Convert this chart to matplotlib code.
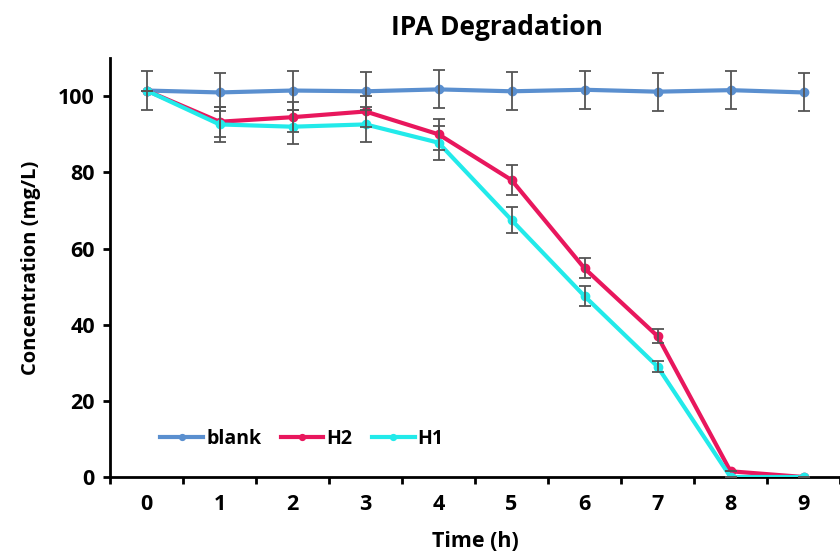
import matplotlib
matplotlib.use("Agg")
import matplotlib.pyplot as plt

time_h = [0, 1, 2, 3, 4, 5, 6, 7, 8, 9]
blank = [101.5, 101.0, 101.5, 101.3, 101.8, 101.3, 101.7, 101.2, 101.6, 101.0]
blank_err = [5.0, 5.0, 5.0, 5.0, 5.0, 5.0, 5.0, 5.0, 5.0, 5.0]
h2 = [101.5, 93.3, 94.5, 96.0, 90.0, 78.0, 54.8, 37.0, 1.5, 0.0]
h2_err = [0.0, 4.0, 4.0, 4.0, 4.0, 4.0, 2.6, 1.8, 0.0, 0.0]
h1 = [101.5, 92.6, 92.0, 92.6, 87.8, 67.5, 47.5, 29.0, 0.0, 0.0]
h1_err = [0.0, 4.5, 4.5, 4.5, 4.5, 3.4, 2.6, 1.5, 0.0, 0.0]

plt.rcParams['font.family'] = ['Open Sans', 'DejaVu Sans']

fig = plt.figure(figsize=(8.4, 5.54), dpi=100)
ax = fig.add_axes([0.131, 0.139, 0.869, 0.756])

series = [
    ("blank", blank, blank_err, "#5A8FCF"),
    ("H2", h2, h2_err, "#E8175D"),
    ("H1", h1, h1_err, "#22EAEA"),
]
for i, (name, vals, err, col) in enumerate(series):
    ax.plot(time_h, vals, color=col, lw=3.0, marker='o', ms=6, label=name, zorder=2 + i)
    ax.errorbar(time_h, vals, yerr=err, fmt='none', ecolor='#555555', elinewidth=1.3,
                capsize=4, capthick=1.3, zorder=6)

ax.set_xlim(-0.5, 9.5)
ax.set_ylim(0, 110)
ax.set_yticks([0, 20, 40, 60, 80, 100])
ax.set_xticks(time_h)
ax.set_xticks([x + 0.5 for x in range(-1, 10)], minor=True)
ax.tick_params(axis='x', which='major', length=0, pad=12, labelsize=15.5)
ax.tick_params(axis='x', which='minor', length=5, width=2, direction='out')
ax.tick_params(axis='y', length=5, width=2, direction='out', labelsize=15.5, pad=6)
for lab in ax.get_xticklabels() + ax.get_yticklabels():
    lab.set_fontweight('bold')

for s in ['top', 'right']:
    ax.spines[s].set_visible(False)
for s in ['left', 'bottom']:
    ax.spines[s].set_linewidth(2)

ax.set_xlabel("Time (h)", fontsize=15.5, fontweight='bold', labelpad=12)
ax.set_ylabel("Concentration (mg/L)", fontsize=14.5, fontweight='bold', labelpad=12)
fig.text(0.592, 0.95, "IPA Degradation", ha='center', va='center', fontsize=19, fontweight='bold')

leg = ax.legend(loc='lower left', bbox_to_anchor=(0.045, 0.025), ncol=3, frameon=False,
                prop={'weight': 'bold', 'size': 14}, handlelength=2.2, handletextpad=0.15,
                columnspacing=1.0, markerscale=0.7)

fig.savefig("out.png", dpi=100)
